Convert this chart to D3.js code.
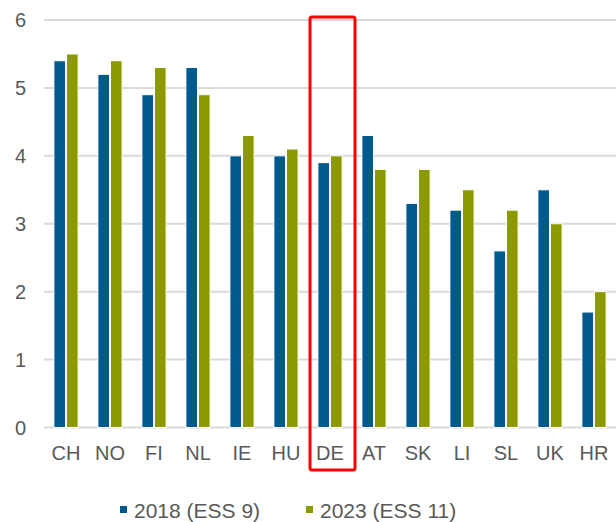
<html>
<head>
    <style>
        body { margin: 0; background: #fff; }
        text { font-family: "Liberation Sans", Arial, sans-serif; fill: #595959; }
    </style>
</head>
<body>
    <svg id="chart" width="616" height="522"></svg>
</body>
<script src="https://cdn.jsdelivr.net/npm/d3@7"></script>
<script>
    // countries along the x axis
    let countries = ["CH", "NO", "FI", "NL", "IE", "HU", "DE", "AT", "SK", "LI", "SL", "UK", "HR"]
    let series = ["2018 (ESS 9)", "2023 (ESS 11)"]
    let values2018 = [5.4, 5.2, 4.9, 5.3, 4.0, 4.0, 3.9, 4.3, 3.3, 3.2, 2.6, 3.5, 1.7]
    let values2023 = [5.5, 5.4, 5.3, 4.9, 4.3, 4.1, 4.0, 3.8, 3.8, 3.5, 3.2, 3.0, 2.0]
    let yTicks = [0, 1, 2, 3, 4, 5, 6]
    let colors = ["#005b8c", "#8a9a00"]
    let highlighted = "DE"

    let svg = d3.select("#chart")

    let xScale = d3.scaleBand().domain(countries).range([44, 616])
        .paddingInner(0.45).paddingOuter(0.225)
    let xInner = d3.scaleBand().domain(series).range([0, xScale.bandwidth()]).paddingInner(0.08)
    let yScale = d3.scaleLinear().domain([0, 6]).range([427.5, 20])

    // gridlines
    svg.append("g").selectAll("line")
        .data(yTicks)
        .enter().append("line")
        .attr("x1", 44).attr("x2", 616)
        .attr("y1", d => yScale(d)).attr("y2", d => yScale(d))
        .style("stroke", "#d9d9d9")
        .style("stroke-width", 2)

    // y labels
    svg.append("g").selectAll("text")
        .data(yTicks)
        .enter().append("text")
        .attr("x", 26)
        .attr("y", d => yScale(d) + 7)
        .attr("text-anchor", "end")
        .style("font-size", "20px")
        .text(d => d)

    // bars
    let rows = countries.map((c, i) => ({ country: c, vals: [values2018[i], values2023[i]] }))
    let groups = svg.append("g").selectAll("g")
        .data(rows)
        .enter().append("g")
        .attr("transform", d => `translate(${xScale(d.country)},0)`)

    groups.selectAll("rect")
        .data(d => d.vals.map((v, i) => ({ key: series[i], value: v, i: i })))
        .enter().append("rect")
        .attr("x", d => xInner(d.key))
        .attr("width", xInner.bandwidth())
        .attr("y", d => yScale(d.value))
        .attr("height", d => yScale(0) - yScale(d.value))
        .style("fill", d => colors[d.i])
        .style("stroke", "#fff")
        .style("stroke-width", 1)

    // x labels
    svg.append("g").selectAll("text")
        .data(countries)
        .enter().append("text")
        .attr("x", d => xScale(d) + xScale.bandwidth() / 2)
        .attr("y", 460)
        .attr("text-anchor", "middle")
        .style("font-size", "20px")
        .text(d => d)

    // highlight box around DE
    let hx = xScale(highlighted) + xScale.bandwidth() / 2
    svg.append("rect")
        .attr("x", hx - 20)
        .attr("y", 17)
        .attr("width", 45)
        .attr("height", 453)
        .attr("rx", 2)
        .style("fill", "none")
        .style("stroke", "#ff0000")
        .style("stroke-width", 3)

    // legend
    let legendX = [120, 306]
    let legend = svg.append("g").selectAll("g")
        .data(series)
        .enter().append("g")
        .attr("transform", (d, i) => `translate(${legendX[i]},0)`)
    legend.append("rect")
        .attr("x", 0).attr("y", 506)
        .attr("width", 7).attr("height", 7)
        .style("fill", (d, i) => colors[i])
    legend.append("text")
        .attr("x", 14)
        .attr("y", 518)
        .style("font-size", "21px")
        .text(d => d)
</script>
</html>
